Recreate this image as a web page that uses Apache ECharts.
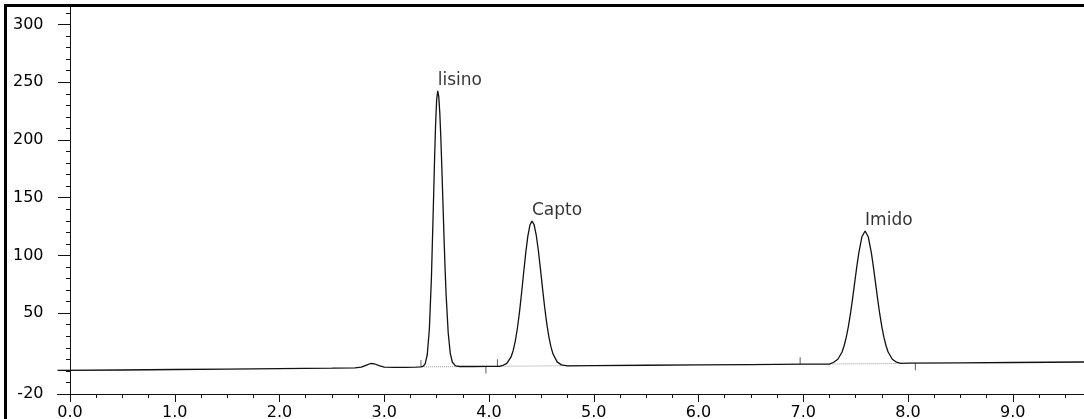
<!DOCTYPE html>
<html>
<head>
<meta charset="utf-8">
<script src="https://cdn.jsdelivr.net/npm/echarts/dist/echarts.min.js"></script>
<style>
    html, body { margin: 0; padding: 0; background: #fff; }
    #chart { width: 1084px; height: 419px; }
</style>
</head>
<body>
<div id="chart"></div>
<script>
    // detector trace: [retention time (min), response]
    var signal = [
        [-0.12, 0.4], [0.5, 0.8], [1.0, 1.2], [1.5, 1.6], [2.0, 2.0], [2.5, 2.4],
        [2.72, 2.6], [2.78, 3.2], [2.83, 5.0], [2.87, 6.4], [2.91, 6.0], [2.95, 4.5],
        [3.0, 3.2], [3.1, 3.0], [3.2, 3.1], [3.3, 3.3],
        // lisino
        [3.35, 3.5], [3.37, 4.0], [3.39, 6.1], [3.41, 14], [3.43, 35.8], [3.45, 81],
        [3.47, 148.5], [3.48, 184], [3.49, 214.4], [3.50, 235], [3.51, 242.5],
        [3.52, 237.5], [3.53, 223], [3.54, 201], [3.55, 174], [3.56, 145],
        [3.57, 116], [3.58, 89], [3.59, 66], [3.61, 33], [3.63, 15],
        [3.65, 7.5], [3.68, 4.3], [3.72, 3.8], [3.85, 3.8], [4.0, 3.9], [4.1, 4.0],
        // Capto
        [4.13, 4.7], [4.17, 6.5], [4.21, 12.1], [4.23, 17.5], [4.25, 25.5], [4.27, 36.5],
        [4.29, 50.5], [4.31, 67], [4.33, 84.8], [4.35, 102], [4.37, 116.5], [4.39, 126.3],
        [4.41, 129.7], [4.43, 126.7], [4.45, 117.9], [4.47, 104.7], [4.49, 88.8],
        [4.51, 71.9], [4.53, 55.8], [4.55, 41.6], [4.57, 30], [4.59, 21.2], [4.61, 14.8],
        [4.65, 7.8], [4.69, 5.2], [4.75, 4.4], [5.0, 4.6], [5.5, 4.9], [6.0, 5.2],
        [6.5, 5.5], [7.0, 5.8], [7.25, 5.9],
        // Imido
        [7.29, 7.5], [7.33, 10.1], [7.37, 16.4], [7.39, 21.8], [7.41, 29], [7.43, 38.2],
        [7.45, 49.3], [7.47, 62.2], [7.49, 76], [7.51, 89.7], [7.53, 102.2], [7.56, 116.2],
        [7.59, 121.2], [7.62, 116.2], [7.65, 102.2], [7.67, 89.7], [7.69, 76], [7.71, 62.2],
        [7.73, 49.3], [7.75, 38.2], [7.77, 29], [7.79, 21.8], [7.81, 16.4], [7.85, 10.1],
        [7.89, 7.5], [7.93, 6.5], [8.0, 6.7], [8.5, 7.0], [9.0, 7.3], [9.68, 7.7]
    ];
    var peakNames = ['lisino', 'Capto', 'Imido'];
    var peakTops = [[3.51, 242.5], [4.41, 129.7], [7.59, 121.2]];
    // integration start / end marks
    var markUp = [[3.35, 3.4], [4.08, 4.0], [6.97, 5.8]];
    var markDown = [[3.97, 3.9], [8.07, 6.7]];
    var peakBases = [
        [[3.38, 3.5], [4.0, 3.9]],
        [[4.08, 4.0], [4.85, 4.5]],
        [[7.28, 6.0], [7.9, 6.4]]
    ];
    var xLabels = [0, 1, 2, 3, 4, 5, 6, 7, 8, 9];
    var yLabels = [-20, 50, 100, 150, 200, 250, 300];

    var xMinor = [];
    for (var i = 0; i <= 38; i++) xMinor.push(i * 0.25);
    var yMinor = [];
    for (var j = -1; j <= 31; j++) yMinor.push(j * 10);

    var ink = '#111';
    var font = 'DejaVu Sans';

    var chart = echarts.init(document.getElementById('chart'));
    var option = {
        animation: false,
        backgroundColor: '#fff',
        grid: { left: 57.5, right: 0, top: 6, bottom: 25, containLabel: false, outerBoundsMode: 'none' },
        graphic: [{
            type: 'rect',
            silent: true,
            z: 100,
            shape: { x: 5.5, y: 5.5, width: 1200, height: 600 },
            style: { fill: 'none', stroke: '#000', lineWidth: 3 }
        }],
        xAxis: [{
            type: 'value', min: -0.12, max: 9.68,
            axisLine: { show: true, onZero: false, lineStyle: { color: ink, width: 1 } },
            axisTick: { show: true, customValues: xLabels, length: 8, lineStyle: { color: ink } },
            axisLabel: {
                customValues: xLabels, margin: 11, color: '#000', fontFamily: font, fontSize: 16,
                formatter: function (v) { return v.toFixed(1); }
            },
            splitLine: { show: false }
        }, {
            type: 'value', position: 'bottom', min: -0.12, max: 9.68,
            axisLine: { show: false, onZero: false },
            axisTick: { show: true, customValues: xMinor, length: 4, lineStyle: { color: ink } },
            axisLabel: { show: false },
            splitLine: { show: false }
        }],
        yAxis: [{
            type: 'value', min: -20, max: 316,
            axisLine: { show: true, onZero: true, onZeroAxisIndex: 0, lineStyle: { color: ink, width: 1 } },
            axisTick: { show: true, customValues: yLabels, length: 12, lineStyle: { color: ink } },
            axisLabel: { customValues: yLabels, margin: 14, color: '#000', fontFamily: font, fontSize: 16 },
            splitLine: { show: false }
        }, {
            type: 'value', position: 'left', min: -20, max: 316,
            axisLine: { show: false, onZero: true, onZeroAxisIndex: 0 },
            axisTick: { show: true, customValues: yMinor, length: 4, lineStyle: { color: ink } },
            axisLabel: { show: false },
            splitLine: { show: false }
        }],
        series: [{
            type: 'lines',
            coordinateSystem: 'cartesian2d',
            data: peakBases.map(function (c) { return { coords: c }; }),
            lineStyle: { type: 'dotted', color: '#999', width: 1, opacity: 1 },
            silent: true
        }, {
            type: 'line',
            data: signal,
            showSymbol: false,
            lineStyle: { color: ink, width: 1.3 },
            silent: true
        }, {
            type: 'scatter',
            data: markUp,
            symbol: 'rect',
            symbolSize: [1, 7],
            symbolOffset: [0, '-50%'],
            itemStyle: { color: '#333' },
            silent: true
        }, {
            type: 'scatter',
            data: markDown,
            symbol: 'rect',
            symbolSize: [1, 7],
            symbolOffset: [0, '50%'],
            itemStyle: { color: '#333' },
            silent: true
        }, {
            type: 'scatter',
            data: peakTops.map(function (p, k) { return { name: peakNames[k], value: p }; }),
            symbolSize: 0,
            label: {
                show: true, position: 'top', align: 'left', distance: 2,
                formatter: '{b}', color: '#000', fontFamily: font, fontSize: 17
            },
            silent: true
        }]
    };
    chart.setOption(option);
</script>
</body>
</html>
